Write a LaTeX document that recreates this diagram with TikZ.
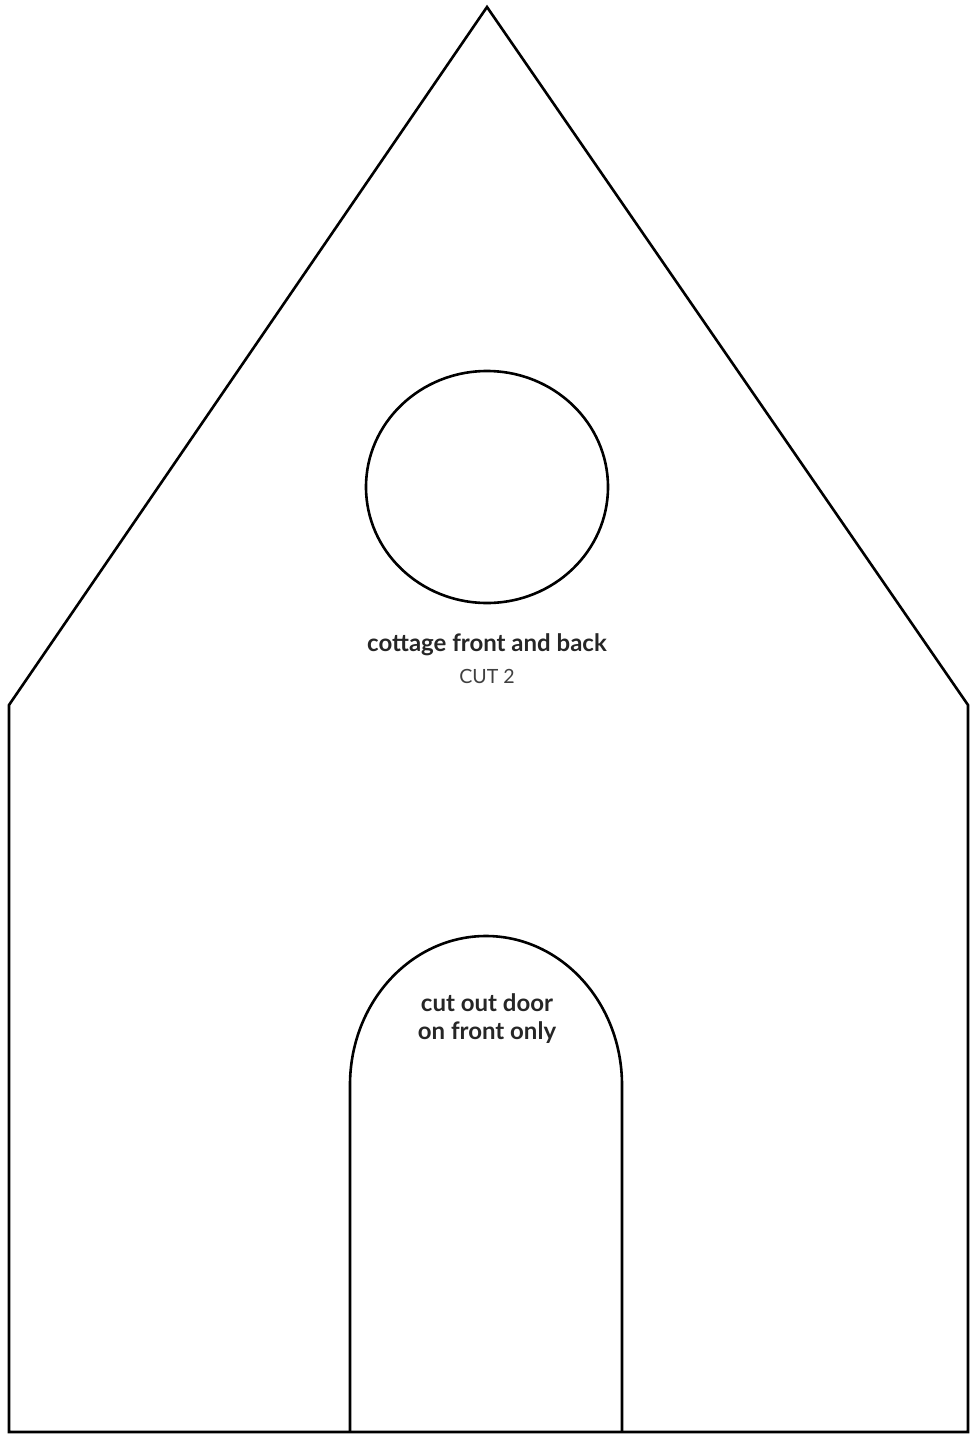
\documentclass[tikz,border=0pt]{standalone}
\usepackage{fontspec}
\setmainfont{Lato}

\begin{document}
\begin{tikzpicture}[x=0.5pt, y=0.5pt, line width=1.3pt, line join=miter]
  \useasboundingbox (0,0) rectangle (972,-1436);
  \coordinate (Top) at (487,-7);
  \coordinate (L) at (9,-705);
  \coordinate (R) at (968,-705);
  \coordinate (BL) at (9,-1432);
  \coordinate (BR) at (968,-1432);
  \coordinate (DL) at (350,-1432);
  \coordinate (DR) at (622,-1432);

  % outline
  \draw (Top)--(R)--(BR)--(BL)--(L)--cycle;

  % door
  \draw (DL)--(350,-1085) arc[start angle=180, end angle=0, x radius=136, y radius=149] --(DR);

  % window
  \draw (487,-487) ellipse[x radius=121, y radius=116];

  \node[font=\bfseries\fontsize{12}{14}\selectfont, text=black!85] (title) at (487,-645) {cottage front and back};
  \node[font=\fontsize{9.8}{11}\selectfont, text=black!75] (cut) at (487,-676) {CUT 2};
  \node[font=\bfseries\fontsize{12}{14}\selectfont, text=black!85, align=center] (door) at (487,-1019) {cut out door\\on front only};
\end{tikzpicture}
\end{document}
